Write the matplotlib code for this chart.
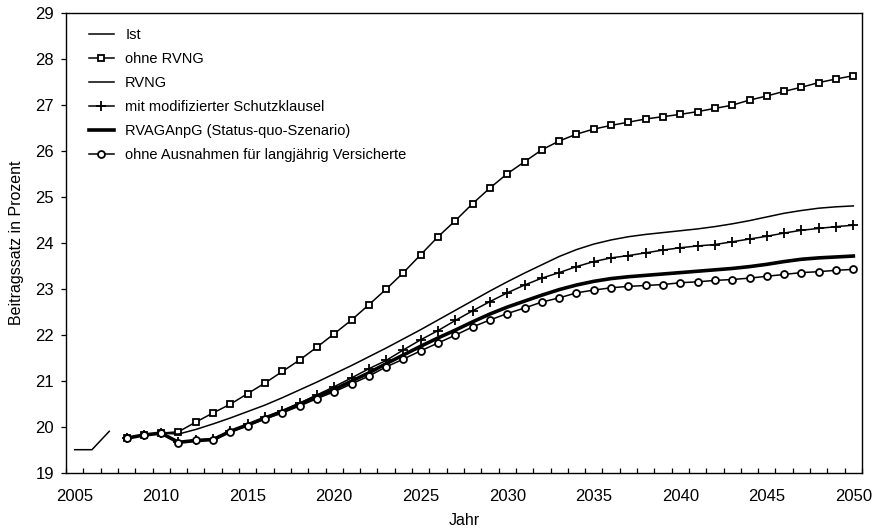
import matplotlib
matplotlib.use("Agg")
import matplotlib.pyplot as plt
from matplotlib.ticker import FixedLocator

plt.rcParams['font.family'] = ['Liberation Sans', 'DejaVu Sans']

years_ist = [2005, 2006, 2007]
ist = [19.5, 19.5, 19.9]

years_p = list(range(2008, 2051))
ohne_rvng = [19.75, 19.82, 19.86, 19.89, 20.10, 20.30, 20.49, 20.72, 20.95, 21.20,
             21.45, 21.73, 22.02, 22.32, 22.65, 22.99, 23.35, 23.74, 24.13, 24.48,
             24.85, 25.19, 25.50, 25.76, 26.02, 26.21, 26.36, 26.47, 26.55, 26.62,
             26.69, 26.74, 26.79, 26.85, 26.92, 26.99, 27.10, 27.19, 27.29, 27.38,
             27.48, 27.56, 27.63]
rvng = [19.75, 19.82, 19.86, 19.84, 19.94, 20.06, 20.19, 20.33, 20.47, 20.63,
        20.80, 20.97, 21.15, 21.33, 21.52, 21.71, 21.91, 22.11, 22.32, 22.53,
        22.74, 22.95, 23.15, 23.34, 23.52, 23.70, 23.85, 23.97, 24.06, 24.13,
        24.18, 24.22, 24.26, 24.30, 24.35, 24.41, 24.48, 24.56, 24.64, 24.70,
        24.75, 24.78, 24.80]
schutz = [19.75, 19.82, 19.86, 19.67, 19.71, 19.73, 19.91, 20.05, 20.20, 20.35,
          20.51, 20.69, 20.87, 21.06, 21.26, 21.44, 21.67, 21.89, 22.09, 22.31,
          22.52, 22.72, 22.91, 23.08, 23.23, 23.35, 23.48, 23.59, 23.67, 23.72,
          23.78, 23.84, 23.89, 23.93, 23.96, 24.02, 24.08, 24.14, 24.21, 24.27,
          24.31, 24.35, 24.38]
rvaganpg = [19.75, 19.82, 19.86, 19.66, 19.70, 19.72, 19.90, 20.04, 20.19, 20.33,
            20.49, 20.66, 20.81, 20.99, 21.17, 21.37, 21.56, 21.75, 21.93, 22.10,
            22.28, 22.45, 22.60, 22.73, 22.86, 22.98, 23.08, 23.16, 23.22, 23.26,
            23.29, 23.32, 23.35, 23.38, 23.41, 23.44, 23.48, 23.53, 23.59, 23.64,
            23.67, 23.69, 23.71]
ohne_ausn = [19.75, 19.82, 19.86, 19.65, 19.70, 19.71, 19.89, 20.02, 20.17, 20.30,
             20.45, 20.61, 20.76, 20.93, 21.10, 21.30, 21.47, 21.65, 21.82, 21.99,
             22.17, 22.32, 22.46, 22.58, 22.71, 22.80, 22.91, 22.97, 23.02, 23.05,
             23.07, 23.09, 23.13, 23.15, 23.18, 23.20, 23.23, 23.27, 23.31, 23.35,
             23.37, 23.40, 23.42]

labels = ["Ist", "ohne RVNG", "RVNG", "mit modifizierter Schutzklausel",
          "RVAGAnpG (Status-quo-Szenario)", "ohne Ausnahmen für langjährig Versicherte"]
xtick_labels = ["2005", "2010", "2015", "2020", "2025", "2030", "2035", "2040", "2045", "2050"]

fig = plt.figure(figsize=(8.79, 5.29), dpi=100)
ax = fig.add_axes([66/879, 1-472.7/529, (862-66)/879, (472.7-12.7)/529])

k = 'black'
ax.plot(years_ist, ist, color=k, lw=1.1, label=labels[0])
ax.plot(years_p, ohne_rvng, color=k, lw=1.1, marker='s', ms=5.0, mfc='white',
        mec=k, mew=1.3, label=labels[1])
ax.plot(years_p, rvng, color=k, lw=1.1, label=labels[2])
ax.plot(years_p, schutz, color=k, lw=1.1, marker='+', ms=7, mew=1.3, label=labels[3])
ax.plot(years_p, rvaganpg, color=k, lw=2.6, label=labels[4])
ax.plot(years_p, ohne_ausn, color=k, lw=1.1, marker='o', ms=5.0, mfc='white',
        mec=k, mew=1.3, label=labels[5])

ax.set_xlim(2004.5, 2050.5)
ax.set_ylim(19, 29)
ax.set_xticks([int(s) for s in xtick_labels])
ax.set_xticklabels(xtick_labels)
ax.xaxis.set_minor_locator(FixedLocator([2004.5 + i for i in range(47)]))
ax.tick_params(axis='x', which='major', length=0, pad=12, labelsize=12)
ax.tick_params(axis='x', which='minor', direction='in', length=3.5, width=0.9)
ax.set_yticks(range(19, 30))
ax.tick_params(axis='y', which='major', direction='out', length=3.5, width=0.9,
               pad=5, labelsize=12)
for s in ax.spines.values():
    s.set_linewidth(1.0)

ax.set_xlabel("Jahr", fontsize=11.5, labelpad=6)
ax.set_ylabel("Beitragssatz in Prozent", fontsize=11.5, labelpad=8)

leg = ax.legend(loc='upper left', bbox_to_anchor=(0.012, 0.995), frameon=False,
                fontsize=10.5, handlelength=1.75, handletextpad=0.75,
                labelspacing=0.68, numpoints=1, borderaxespad=0.5)

fig.savefig("out.png", dpi=100)
